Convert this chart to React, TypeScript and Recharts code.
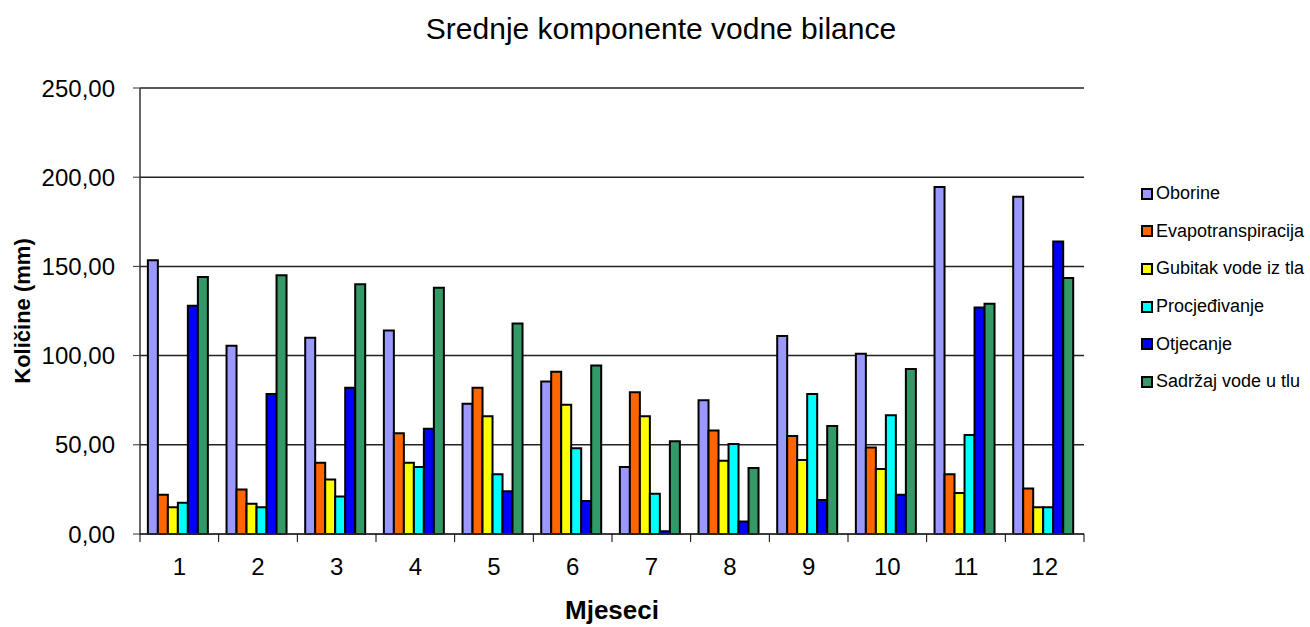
import { BarChart, Bar, XAxis, YAxis, CartesianGrid, Legend } from 'recharts';

const mjeseci = ['1', '2', '3', '4', '5', '6', '7', '8', '9', '10', '11', '12'];
const oborine = [153.5, 105.5, 110, 114, 73, 85.5, 37.5, 75, 111, 101, 194.5, 189];
const evapotranspiracija = [22, 25, 40, 56.5, 82, 91, 79.5, 58, 55, 48.5, 33.5, 25.5];
const gubitak = [15, 17, 30.5, 40, 66, 72.5, 66, 41, 41.5, 36.5, 23, 15];
const procjedjivanje = [17.5, 15, 21, 37.5, 33.5, 48, 22.5, 50.5, 78.5, 66.5, 55.5, 15];
const otjecanje = [128, 78.5, 82, 59, 24, 18.5, 1.5, 7, 19, 22, 127, 164];
const sadrzaj = [144, 145, 140, 138, 118, 94.5, 52, 37, 60.5, 92.5, 129, 143.5];
const yTicks = [0, 50, 100, 150, 200, 250];

const series = [
  { key: 'oborine', name: 'Oborine', color: '#9999FF' },
  { key: 'evap', name: 'Evapotranspiracija', color: '#FF6600' },
  { key: 'gubitak', name: 'Gubitak vode iz tla', color: '#FFFF00' },
  { key: 'procj', name: 'Procjeđivanje', color: '#00FFFF' },
  { key: 'otj', name: 'Otjecanje', color: '#0000FF' },
  { key: 'sadrzaj', name: 'Sadržaj vode u tlu', color: '#339966' },
];

const data = mjeseci.map((m, i) => ({
  mjesec: m,
  oborine: oborine[i],
  evap: evapotranspiracija[i],
  gubitak: gubitak[i],
  procj: procjedjivanje[i],
  otj: otjecanje[i],
  sadrzaj: sadrzaj[i],
}));

const W = 1310;
const H = 627;
const LEFT = 140;
const RIGHT = 226;
const font = '"Liberation Sans", Arial, sans-serif';
const catW = (W - LEFT - RIGHT) / mjeseci.length;

const CatTick = (props: any) => {
  const { x, y, payload, index } = props;
  return (
    <g>
      <line x1={x - catW / 2} x2={x - catW / 2} y1={y} y2={y + 8} stroke="#000" />
      {index === mjeseci.length - 1 && (
        <line x1={x + catW / 2} x2={x + catW / 2} y1={y} y2={y + 8} stroke="#000" />
      )}
      <text x={x} y={y + 41} textAnchor="middle" fontSize={24} fontFamily={font} fill="#000">
        {payload.value}
      </text>
    </g>
  );
};

const LegendBox = () => (
  <div style={{ fontFamily: font, fontSize: 18, color: '#000' }}>
    {series.map((s) => (
      <div key={s.key} style={{ display: 'flex', alignItems: 'center', height: 37.6 }}>
        <span
          style={{
            width: 8,
            height: 8,
            background: s.color,
            border: '2px solid #000',
            marginRight: 3,
            display: 'inline-block',
            flexShrink: 0,
          }}
        />
        <span style={{ whiteSpace: 'nowrap' }}>{s.name}</span>
      </div>
    ))}
  </div>
);

export default function App() {
  return (
    <div style={{ position: 'absolute', left: 0, top: 0, width: W, height: H, background: '#fff' }}>
      <div
        style={{
          position: 'absolute',
          top: 12,
          left: 0,
          width: 1322,
          textAlign: 'center',
          fontFamily: font,
          fontSize: 30,
        }}
      >
        Srednje komponente vodne bilance
      </div>
      <BarChart
        width={W}
        height={H}
        data={data}
        margin={{ top: 88, right: RIGHT, bottom: 0, left: 0 }}
        barGap={0}
        barCategoryGap="10%"
      >
        <CartesianGrid vertical={false} stroke="#222" strokeWidth={1.5} />
        <XAxis
          dataKey="mjesec"
          height={93}
          tickLine={false}
          tickSize={0}
          tickMargin={0}
          axisLine={{ stroke: '#333', strokeWidth: 1.5 }}
          tick={<CatTick />}
          interval={0}
          label={{
            value: 'Mjeseci',
            position: 'insideBottom',
            offset: 8,
            style: { fontFamily: font, fontSize: 26, fontWeight: 'bold', fill: '#000' },
          }}
        />
        <YAxis
          width={LEFT}
          domain={[0, 250]}
          ticks={yTicks}
          interval={0}
          tickSize={7}
          tickMargin={18}
          tickLine={{ stroke: '#333' }}
          axisLine={{ stroke: '#333', strokeWidth: 1.5 }}
          tickFormatter={(v: number) => v.toFixed(2).replace('.', ',')}
          tick={{ fontFamily: font, fontSize: 24, fill: '#000' }}
          label={{
            value: 'Količine (mm)',
            angle: -90,
            position: 'insideLeft',
            offset: 22,
            style: { fontFamily: font, fontSize: 22, fontWeight: 'bold', fill: '#000', textAnchor: 'middle' },
          }}
        />
        <YAxis
          yAxisId="r"
          orientation="right"
          width={0}
          tick={false}
          tickLine={false}
          axisLine={{ stroke: '#777', strokeWidth: 1.5 }}
          domain={[0, 250]}
        />
        <Legend
          layout="horizontal"
          verticalAlign="middle"
          align="center"
          content={<LegendBox />}
          wrapperStyle={{ position: 'absolute', left: 1141, top: 175, width: 170 }}
        />
        {series.map((s) => (
          <Bar
            key={s.key}
            dataKey={s.key}
            name={s.name}
            fill={s.color}
            stroke="#000"
            strokeWidth={2}
            isAnimationActive={false}
          />
        ))}
      </BarChart>
    </div>
  );
}
